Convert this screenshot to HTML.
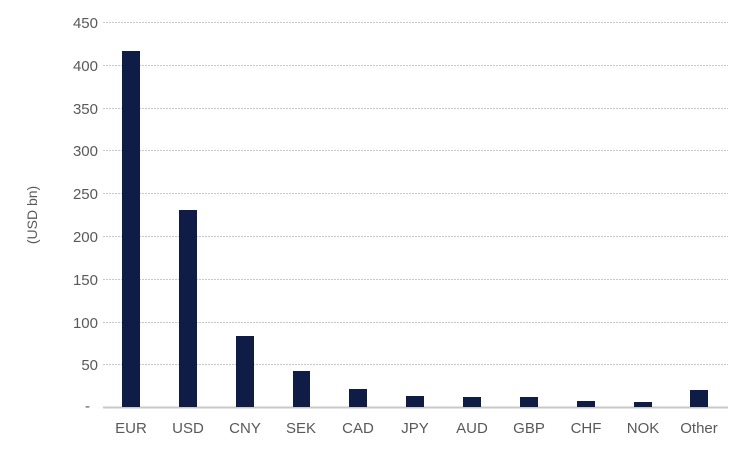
<!DOCTYPE html>
<html><head><style>body{margin:0;background:#fff}</style></head><body>
<svg width="750" height="450" xmlns="http://www.w3.org/2000/svg" font-family="Liberation Sans, sans-serif" fill="#595959">
<g stroke="#c8c8c8" stroke-width="1" stroke-dasharray="2,1">
<line x1="103" x2="728" y1="22.5" y2="22.5"/><line x1="103" x2="728" y1="65.5" y2="65.5"/>
<line x1="103" x2="728" y1="108.5" y2="108.5"/><line x1="103" x2="728" y1="150.5" y2="150.5"/>
<line x1="103" x2="728" y1="193.5" y2="193.5"/><line x1="103" x2="728" y1="236.5" y2="236.5"/>
<line x1="103" x2="728" y1="279.5" y2="279.5"/><line x1="103" x2="728" y1="322.5" y2="322.5"/>
<line x1="103" x2="728" y1="364.5" y2="364.5"/>
</g>
<line x1="103" x2="728" y1="407.5" y2="407.5" stroke="#c8c8c8" stroke-width="2"/>
<g font-size="15" text-anchor="end">
<text x="98" y="28">450</text><text x="98" y="71">400</text><text x="98" y="114">350</text>
<text x="98" y="156">300</text><text x="98" y="199">250</text><text x="98" y="242">200</text>
<text x="98" y="285">150</text><text x="98" y="328">100</text><text x="98" y="370">50</text>
<text x="90" y="411">-</text>
</g>
<text transform="translate(37,215) rotate(-90)" font-size="14" text-anchor="middle">(USD bn)</text>
<g fill="#0f1c45">
<rect x="122" y="51" width="18" height="356"/>
<rect x="179" y="210" width="18" height="197"/>
<rect x="236" y="336" width="18" height="71"/>
<rect x="293" y="371" width="17" height="36"/>
<rect x="349" y="389" width="18" height="18"/>
<rect x="406" y="396" width="18" height="11"/>
<rect x="463" y="397" width="18" height="10"/>
<rect x="520" y="397" width="18" height="10"/>
<rect x="577" y="401" width="18" height="6"/>
<rect x="634" y="402" width="18" height="5"/>
<rect x="690" y="390" width="18" height="17"/>
</g>
<g font-size="15" text-anchor="middle">
<text x="131" y="433">EUR</text><text x="188" y="433">USD</text><text x="245" y="433">CNY</text>
<text x="301" y="433">SEK</text><text x="358" y="433">CAD</text><text x="415" y="433">JPY</text>
<text x="472" y="433">AUD</text><text x="529" y="433">GBP</text><text x="586" y="433">CHF</text>
<text x="643" y="433">NOK</text><text x="699" y="433">Other</text>
</g>
</svg>
</body></html>
